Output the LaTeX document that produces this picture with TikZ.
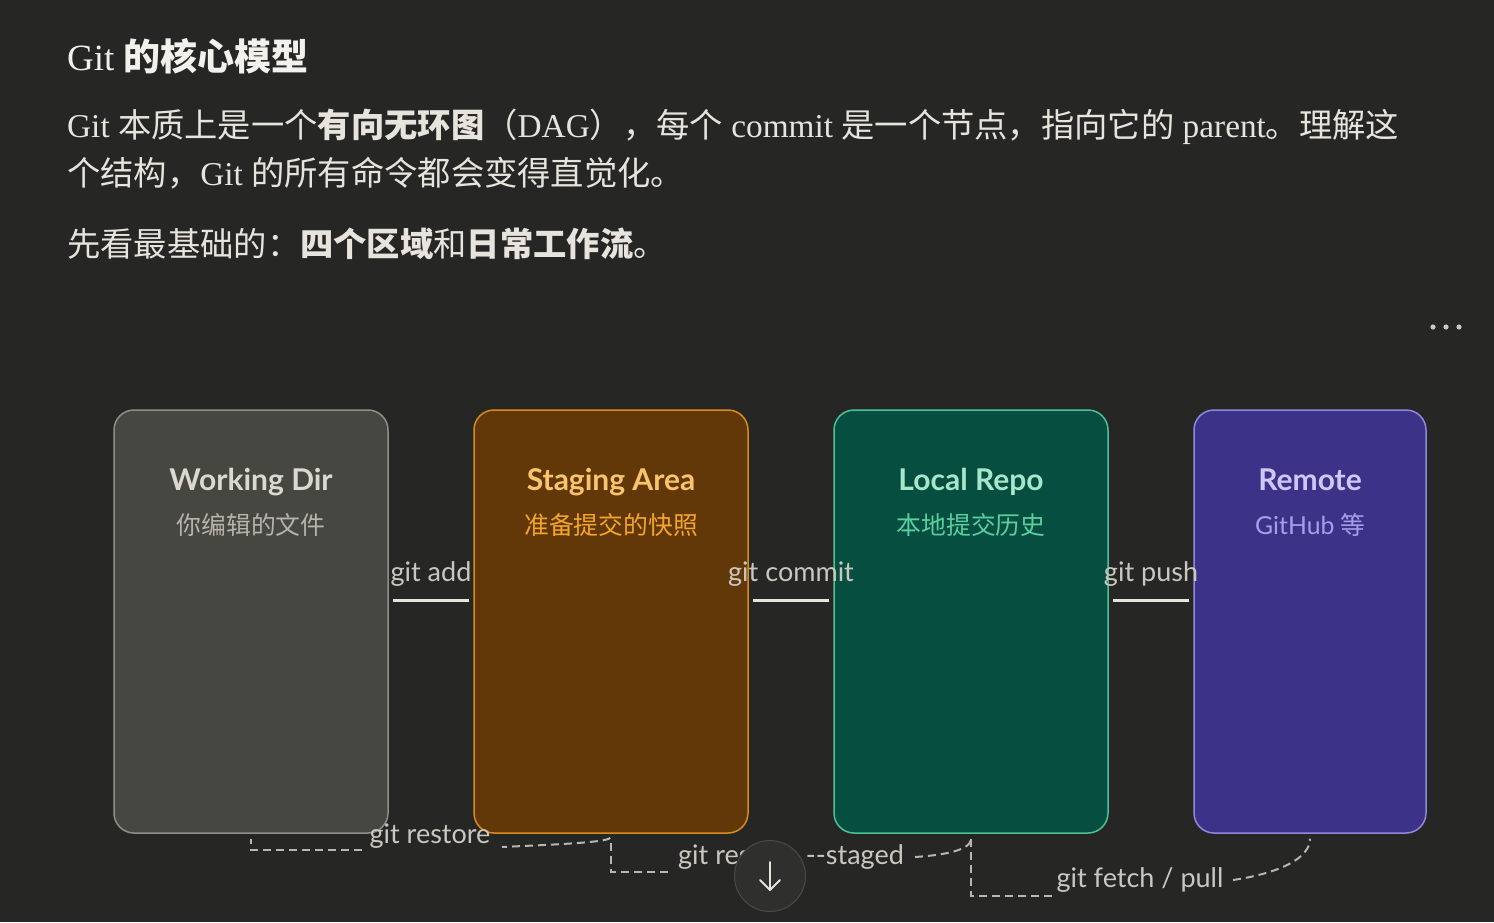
\documentclass[tikz,border=0pt]{standalone}
\usepackage{fontspec}
\setmainfont{Liberation Serif}
\newfontfamily\cjk{Noto Sans CJK SC}
\newfontfamily\lato{Lato}
\usetikzlibrary{calc}
\definecolor{bg}{HTML}{262624}
\definecolor{hd}{HTML}{F2F1EC}
\definecolor{bodytxt}{HTML}{E6E4DD}
\definecolor{lbltxt}{HTML}{C9C7BF}
\definecolor{dashc}{HTML}{B8B6AE}
\definecolor{wdfill}{HTML}{474742}
\definecolor{wddraw}{HTML}{8E8D87}
\definecolor{wdtitle}{HTML}{DAD8D0}
\definecolor{wdsub}{HTML}{B5B3AB}
\definecolor{stfill}{HTML}{633808}
\definecolor{stdraw}{HTML}{D88C1C}
\definecolor{sttitle}{HTML}{F8C46E}
\definecolor{stsub}{HTML}{F4A52C}
\definecolor{lcfill}{HTML}{064E40}
\definecolor{lcdraw}{HTML}{4CC098}
\definecolor{lctitle}{HTML}{A8E6CC}
\definecolor{lcsub}{HTML}{5CCF9F}
\definecolor{rmfill}{HTML}{3C3388}
\definecolor{rmdraw}{HTML}{9088E0}
\definecolor{rmtitle}{HTML}{CEC8F8}
\definecolor{rmsub}{HTML}{A69EEA}
\definecolor{btnfill}{HTML}{2F2F2D}
\definecolor{btndraw}{HTML}{4A4A47}
\tikzset{
  area/.style={rounded corners=20pt, line width=1.5pt, minimum height=423pt, inner sep=0pt},
  areatitle/.style={anchor=base, inner sep=0pt, font=\lato\bfseries\fontsize{30}{34}\selectfont},
  areasub/.style={anchor=base, inner sep=0pt, font=\cjk\fontsize{24.8}{30}\selectfont},
  lbl/.style={inner sep=0pt, text=lbltxt, font=\lato\fontsize{27}{31}\selectfont},
  conn/.style={draw=bodytxt, line width=3pt, shorten <=4.5pt, shorten >=4.5pt},
  dl/.style={draw=dashc, line width=2pt, dash pattern=on 8pt off 5pt},
  headline/.style={anchor=base west, inner sep=0pt, text=bodytxt, font=\fontsize{33.3}{40}\selectfont},
}
\begin{document}
\begin{tikzpicture}[x=1pt,y=-1pt]
\useasboundingbox (0,0) rectangle (1494,922);
\fill[bg] (0,0) rectangle (1494,922);

% header
\node[anchor=base west, inner sep=0pt, text=hd, font=\fontsize{37}{42}\selectfont] (title) at (67,70) {Git {\cjk\bfseries 的核心模型}};
\node[headline] (line1) at (67,137) {Git {\cjk 本质上是一个}{\cjk\bfseries 有向无环图}{\cjk （}DAG{\cjk ），每个} commit {\cjk 是一个节点，指向它的} parent{\cjk 。理解这}};
\node[headline] (line2) at (67,185) {{\cjk 个结构，}Git {\cjk 的所有命令都会变得直觉化。}};
\node[headline] (line3) at (67,256) {{\cjk 先看最基础的：}{\cjk\bfseries 四个区域}{\cjk 和}{\cjk\bfseries 日常工作流}{\cjk 。}};

% menu dots
\foreach \i/\xx in {1/1433,2/1446,3/1459} \fill[lbltxt] (\xx,327) circle (2.6pt);

% free ends of the return paths
\coordinate (a1) at (502,847);
\coordinate (a2) at (362,850);
\coordinate (b1) at (668,872);
\coordinate (b2) at (915,857);
\coordinate (c1) at (1052,896);
\coordinate (c2) at (1233,880);

% areas
\node[area, fill=wdfill, draw=wddraw, minimum width=274pt] (wd) at (251,621.5) {};
\node[area, fill=stfill, draw=stdraw, minimum width=274pt] (stg) at (611,621.5) {};
\node[area, fill=lcfill, draw=lcdraw, minimum width=274pt] (loc) at (971,621.5) {};
\node[area, fill=rmfill, draw=rmdraw, minimum width=232pt] (rem) at (1310,621.5) {};

\draw[dl, shorten <=4pt] (stg.south) .. controls +(-2,9) and +(40,-2) .. (a1);
\draw[dl, shorten >=5pt] (a2) -| (wd.south);
\draw[dl, shorten >=5pt] (b1) -| (stg.south);
\draw[dl, shorten >=5pt] (b2) .. controls (945,855) and (971,850) .. (loc.south);
\draw[dl, shorten >=5pt] (c1) -| (loc.south);
\draw[dl, shorten >=5pt] (c2) .. controls (1280,873) and (1310,858) .. (rem.south);

\node[areatitle, text=wdtitle] (wdT) at (251,490) {Working Dir};
\node[areasub, text=wdsub] (wdS) at (251,534) {你编辑的文件};
\node[areatitle, text=sttitle] (stT) at (611,490) {Staging Area};
\node[areasub, text=stsub] (stS) at (611,534) {准备提交的快照};
\node[areatitle, text=lctitle] (lcT) at (971,490) {Local Repo};
\node[areasub, text=lcsub] (lcS) at (971,534) {本地提交历史};
\node[areatitle, text=rmtitle] (rmT) at (1310,490) {Remote};
\node[areasub, text=rmsub] (rmS) at (1310,534) {{\lato GitHub} 等};

% forward connectors
\draw[conn] (wd.east |- 0,600) -- node[lbl, anchor=base, yshift=19pt] (lAdd) {git add} (stg.west |- 0,600);
\draw[conn] (stg.east |- 0,600) -- node[lbl, anchor=base, yshift=19pt] (lCommit) {git commit} (loc.west |- 0,600);
\draw[conn] (loc.east |- 0,600) -- node[lbl, anchor=base, yshift=19pt] (lPush) {git push} (rem.west |- 0,600);

% return labels
\node[lbl, anchor=base] (lRestore) at (430,843) {git restore};
\node[lbl, anchor=base] (lStaged) at (791,864) {git restore -\kern0pt-staged};
\node[lbl, anchor=base] (lFetch) at (1140,887) {git fetch / pull};

% scroll button
\node[circle, fill=btnfill, draw=btndraw, line width=1pt, minimum size=71pt, inner sep=0pt] (btn) at (770,876) {};
\draw[bodytxt, line width=2pt, line cap=round, line join=round] ($(btn.center)+(0,-14)$) -- ($(btn.center)+(0,14)$);
\draw[bodytxt, line width=2pt, line cap=round, line join=round] ($(btn.center)+(-10,4)$) -- ($(btn.center)+(0,14)$) -- ($(btn.center)+(10,4)$);
\end{tikzpicture}
\end{document}
